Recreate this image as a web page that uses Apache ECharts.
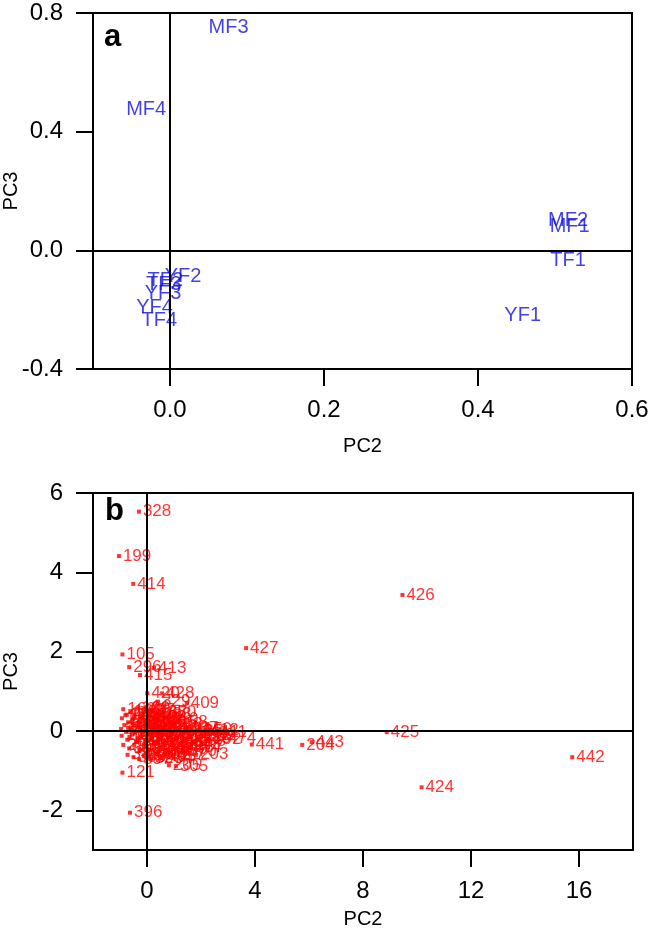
<!DOCTYPE html>
<html>
<head>
<meta charset="utf-8">
<script src="https://cdn.jsdelivr.net/npm/echarts@6/dist/echarts.min.js"></script>
<style>html,body{margin:0;padding:0;background:#fff}#c{width:657px;height:931px}</style>
</head>
<body>
<div id="c"></div>
<script>
// ---------- Panel a ----------
const aLabels = ['MF1','MF2','MF3','MF4','TF1','TF2','TF3','TF4','YF1','YF2','YF3','YF4'];
const aPC2    = [0.519, 0.517, 0.076, -0.031, 0.517, -0.006, -0.008, -0.014, 0.458, 0.017, -0.009, -0.020];
const aPC3    = [0.081, 0.101, 0.750, 0.474, -0.035, -0.100, -0.115, -0.236, -0.221, -0.088, -0.145, -0.191];
const aXTicks = [0.0, 0.2, 0.4, 0.6];
const aYTicks = [-0.4, 0.0, 0.4, 0.8];

// ---------- Panel b ----------
const bLabels = [
  328,199,414,426,427,105,296,413,415,420,428,329,409,167,474,411,412,441,204,443,425,442,424,203,357,397,205,305,274,121,396,
  160,165,100,87,97,233,18,44,350,71,
  12,25,33,41,56,63,79,88,94,110,118,123,131,140,152,158,
  3,7,15,21,29,37,48,52,60,66,74,82,90,102,113,127,135,143,150,162,
  170,176,183,190,197,208,214,221,227,235,241,248,253,260,266,271,278,283,289,292,
  298,302,310,316,321,327,333,338,343,347,352,359,364,370,374,
  380,385,390,393,401,405,417,
  1,2,4,5,6,8,9,10,11,13,14,16,17,19,20,22,23,24,26,27
];
const bPC2 = [
  -0.30,-1.04,-0.51,9.46,3.67,-0.91,-0.66,0.26,-0.26,0.01,0.56,0.41,1.47,0.30,2.85,2.55,2.20,3.88,5.75,6.10,8.88,15.75,10.17,1.82,1.63,-0.29,0.81,1.07,0.48,-0.91,-0.63,
  -0.88,-0.62,-0.35,-0.12,0.18,0.45,-0.75,-0.05,0.62,-0.48,
  -0.93,-0.70,-0.52,-0.31,-0.18,0.02,0.22,0.38,0.55,0.75,0.90,-0.84,-0.41,0.10,0.66,1.05,
  -0.96,-0.78,-0.60,-0.45,-0.27,-0.10,0.05,0.20,0.33,0.48,0.63,0.80,0.95,1.12,1.28,1.45,1.62,1.80,1.95,-0.20,
  -0.94,-0.73,-0.55,-0.38,-0.22,-0.02,0.15,0.30,0.46,0.60,0.78,0.92,1.10,1.25,1.40,1.57,1.73,1.90,2.05,2.30,
  -0.88,-0.66,-0.47,-0.28,-0.12,0.06,0.24,0.40,0.55,0.72,0.88,1.05,1.22,1.38,1.55,
  -0.72,-0.50,-0.10,0.15,0.35,0.62,0.95,
  -0.05,0.08,-0.15,0.12,0.25,-0.30,0.40,-0.55,0.50,-0.65,0.70,0.85,-0.80,0.30,-0.35,0.05,0.18,-0.25,0.60,-0.70
];
const bPC3 = [
  5.53,4.41,3.71,3.43,2.09,1.93,1.61,1.59,1.41,0.95,0.95,0.74,0.71,0.45,-0.18,-0.03,0.02,-0.34,-0.35,-0.28,-0.03,-0.66,-1.42,-0.60,-0.40,-0.71,-0.86,-0.88,-0.68,-1.05,-2.06,
  0.55,0.50,0.57,0.48,0.52,0.43,0.41,0.60,0.47,0.38,
  0.32,0.22,0.30,0.18,0.35,0.27,0.19,0.33,0.24,0.29,0.16,0.15,0.12,0.38,0.12,0.21,
  0.05,-0.02,0.09,-0.04,0.06,0.13,-0.03,0.08,-0.01,0.11,0.02,0.07,-0.04,0.05,-0.02,0.08,0.00,-0.05,0.04,-0.01,
  -0.12,-0.22,-0.09,-0.27,-0.15,-0.24,-0.11,-0.28,-0.16,-0.25,-0.13,-0.29,-0.18,-0.09,-0.24,-0.14,-0.27,-0.19,-0.10,-0.22,
  -0.35,-0.44,-0.36,-0.50,-0.38,-0.47,-0.34,-0.52,-0.40,-0.48,-0.36,-0.45,-0.33,-0.50,-0.42,
  -0.60,-0.66,-0.62,-0.70,-0.58,-0.64,-0.61,
  0.05,0.10,-0.08,-0.05,0.02,0.22,0.15,0.20,-0.08,-0.15,-0.05,0.22,0.40,0.30,-0.18,0.22,-0.20,0.38,0.35,0.08
];
const bXTicks = [0, 4, 8, 12, 16];
const bYTicks = [-2, 0, 2, 4, 6];

const FONT = 'Liberation Sans, Arial, sans-serif';
const aData = aLabels.map((n, i) => ({ name: n, value: [aPC2[i], aPC3[i]] }));
const bData = bLabels.map((n, i) => ({ name: String(n), value: [bPC2[i], bPC3[i]] }));

function xAx(grid, min, max, ticks, fmt, nameGap) {
  return {
    gridIndex: grid, type: 'value', min: min, max: max, position: 'bottom',
    axisLine: { show: false, onZero: false },
    splitLine: { show: false },
    axisTick: { show: true, inside: false, length: 17, customValues: ticks, lineStyle: { color: '#000', width: 2 } },
    axisLabel: { show: true, customValues: ticks, formatter: fmt, color: '#000', fontSize: 24, fontFamily: FONT, margin: 29 },
    name: 'PC2', nameLocation: 'middle', nameGap: nameGap, nameMoveOverlap: false,
    nameTextStyle: { color: '#000', fontSize: 20, fontFamily: FONT }
  };
}
function yAx(grid, min, max, ticks, fmt) {
  return {
    gridIndex: grid, type: 'value', min: min, max: max, position: 'left',
    axisLine: { show: false, onZero: false },
    splitLine: { show: false },
    axisTick: { show: true, inside: false, length: 17, customValues: ticks, lineStyle: { color: '#000', width: 2 } },
    axisLabel: { show: true, customValues: ticks, formatter: fmt, color: '#000', fontSize: 24, fontFamily: FONT, margin: 30 },
    name: 'PC3', nameLocation: 'middle', nameGap: 72, nameRotate: 90, nameMoveOverlap: false,
    nameTextStyle: { color: '#000', fontSize: 20, fontFamily: FONT }
  };
}
const zeroLines = {
  silent: true, symbol: ['none', 'none'], label: { show: false },
  lineStyle: { color: '#000', width: 2, type: 'solid' },
  data: [{ xAxis: 0 }, { yAxis: 0 }]
};

const chart = echarts.init(document.getElementById('c'), null, { renderer: 'canvas' });
chart.setOption({
  backgroundColor: '#fff',
  animation: false,
  grid: [
    { left: 93, top: 13, width: 539, height: 356, show: true, borderColor: '#000', borderWidth: 2, backgroundColor: 'transparent', containLabel: false, outerBoundsMode: 'none' },
    { left: 93, top: 493, width: 540, height: 357, show: true, borderColor: '#000', borderWidth: 2, backgroundColor: 'transparent', containLabel: false, outerBoundsMode: 'none' }
  ],
  xAxis: [
    xAx(0, -0.1, 0.6, aXTicks, v => v.toFixed(1), 67),
    xAx(1, -2, 18, bXTicks, v => String(v), 59)
  ],
  yAxis: [
    yAx(0, -0.4, 0.8, aYTicks, v => v.toFixed(1)),
    yAx(1, -3, 6, bYTicks, v => String(v))
  ],
  graphic: [
    { type: 'text', left: 104, top: 22, style: { text: 'a', font: 'bold 31px ' + FONT, fill: '#000' } },
    { type: 'text', left: 105, top: 496, style: { text: 'b', font: 'bold 31px ' + FONT, fill: '#000' } }
  ],
  series: [
    {
      type: 'scatter', xAxisIndex: 0, yAxisIndex: 0, data: aData,
      symbolSize: 1, itemStyle: { color: 'rgba(0,0,0,0)' },
      label: { show: true, position: 'inside', formatter: '{b}', color: '#1010dd', fontSize: 20, fontFamily: FONT },
      labelLayout: { hideOverlap: false },
      markLine: zeroLines, z: 3
    },
    {
      type: 'scatter', xAxisIndex: 1, yAxisIndex: 1, data: bData,
      symbol: 'rect', symbolSize: 4, itemStyle: { color: '#ff0000' },
      label: { show: true, position: 'right', distance: 2, formatter: '{b}', color: '#ff0000', fontSize: 17, fontFamily: FONT },
      labelLayout: { hideOverlap: false },
      markLine: zeroLines, z: 3
    }
  ]
});
</script>
</body>
</html>
